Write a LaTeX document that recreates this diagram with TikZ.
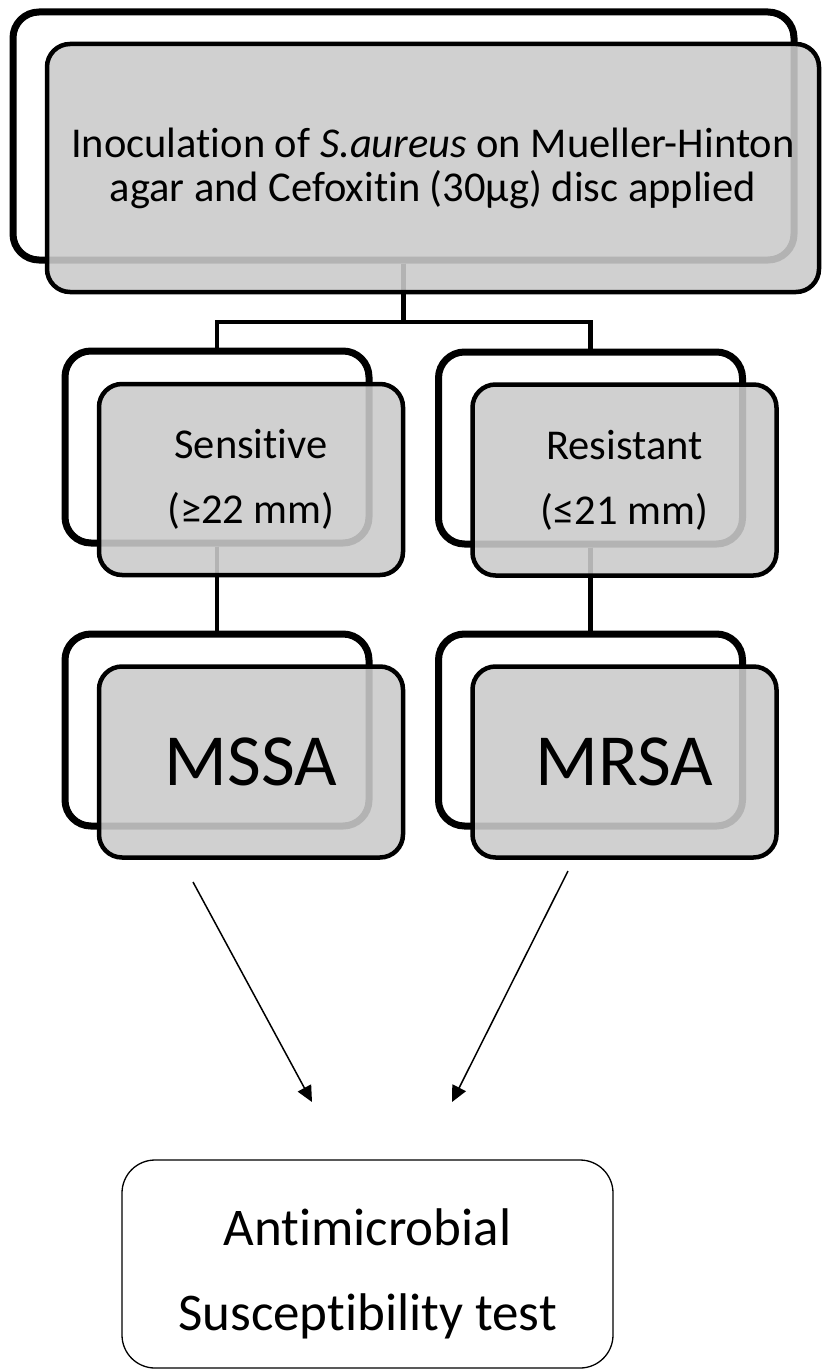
\documentclass[tikz,border=0pt]{standalone}
\usepackage{fontspec}
\setmainfont{Carlito}[Ligatures=NoCommon, Contextuals=NoAlternate]
\usetikzlibrary{arrows.meta}
\definecolor{boxgray}{RGB}{202,202,202}

\begin{document}
\begin{tikzpicture}[x=1pt, y=-1pt,
    back/.style = {draw, line width=7pt, rounded corners=26pt, minimum width=304pt, minimum height=192pt},
    front/.style = {draw, line width=4.5pt, rounded corners=23pt, fill=boxgray, fill opacity=0.89, text opacity=1,
                    minimum width=304pt, minimum height=191pt, align=center},
    link/.style = {line width=4.5pt},
    arr/.style = {line width=1.5pt, -{Triangle[length=16pt, width=15pt]}}]
    \useasboundingbox (0,0) rectangle (822,1370);

    \node[back, minimum width=781pt, minimum height=248pt] (topback) at (403.5,136) {};
    \node[back] (sensback) at (217,447) {};
    \node[back] (resback) at (590.5,448) {};
    \node[back] (mssaback) at (217,730) {};
    \node[back] (mrsaback) at (590.5,730) {};

    \coordinate (split) at (403.5,322);
    \draw[link] (topback.south) -- (split);
    \draw[link] (split) -| (sensback.north);
    \draw[link] (split) -| (resback.north);
    \draw[link] (sensback.south) -- (mssaback.north);
    \draw[link] (resback.south) -- (mrsaback.north);

    \node[front, minimum width=772pt, minimum height=248pt, font=\fontsize{42.5}{44}\selectfont] (top) at (433,168)
      {Inoculation of \textit{S.aureus} on Mueller-Hinton\\agar and Cefoxitin (30µg) disc applied};
    \node[front, font=\fontsize{42.5}{65}\selectfont] (sens) at (251,479.5) {Sensitive\\(≥22 mm)};
    \node[front, font=\fontsize{42.5}{65}\selectfont] (res) at (624.5,480) {Resistant\\(≤21 mm)};
    \node[front, font=\fontsize{73.5}{80}\selectfont] (mssa) at (251,762) {MSSA};
    \node[front, font=\fontsize{73.5}{80}\selectfont] (mrsa) at (624.5,762) {MRSA};

    \node[draw, line width=1.3pt, rounded corners=33pt, minimum width=491pt, minimum height=208pt, align=center,
          text height=140pt, text depth=8pt, font=\fontsize{53}{85}\selectfont] (ast) at (367.5,1264)
      {Antimicrobial\\Susceptibility test};

    \coordinate (mssaout) at (193,882);
    \coordinate (mrsaout) at (568,871);
    \coordinate (astinl) at (312,1102);
    \coordinate (astinr) at (452,1102);
    \draw[arr] (mssaout) -- (astinl);
    \draw[arr] (mrsaout) -- (astinr);
\end{tikzpicture}
\end{document}
